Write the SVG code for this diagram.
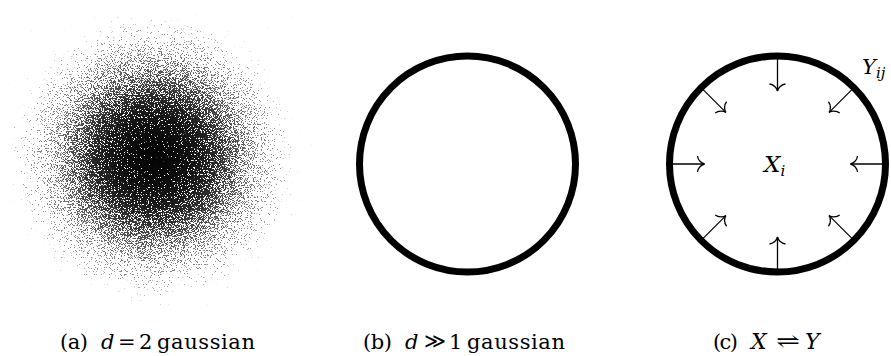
<svg xmlns="http://www.w3.org/2000/svg" width="891" height="356" viewBox="0 0 891 356">
<style>
text{font-family:'DejaVu Serif',serif;fill:#000}
.t{font-size:21px}
.m{font-style:italic}
.sym{font-size:21px}
.ring{fill:none;stroke:#000;stroke-width:7}
.arr{stroke:#000;stroke-width:1.3;fill:none}
</style>
<defs>
<radialGradient id="dens" cx="154" cy="158" r="155" gradientUnits="userSpaceOnUse">
<stop offset="0" stop-color="#000" stop-opacity="0.97"/>
<stop offset="0.1" stop-color="#000" stop-opacity="0.95"/>
<stop offset="0.2" stop-color="#000" stop-opacity="0.91"/>
<stop offset="0.3" stop-color="#000" stop-opacity="0.85"/>
<stop offset="0.4" stop-color="#000" stop-opacity="0.74"/>
<stop offset="0.5" stop-color="#000" stop-opacity="0.58"/>
<stop offset="0.6" stop-color="#000" stop-opacity="0.4"/>
<stop offset="0.7" stop-color="#000" stop-opacity="0.24"/>
<stop offset="0.8" stop-color="#000" stop-opacity="0.12"/>
<stop offset="0.9" stop-color="#000" stop-opacity="0.05"/>
<stop offset="1" stop-color="#000" stop-opacity="0.015"/>
</radialGradient>
<filter id="speckle" filterUnits="userSpaceOnUse" x="0" y="0" width="312" height="314" color-interpolation-filters="sRGB">
<feTurbulence type="fractalNoise" baseFrequency="1.3" numOctaves="1" seed="7" result="t"/>
<feColorMatrix in="t" type="matrix" values="0 0 0 0 0  0 0 0 0 0  0 0 0 0 0  1 0 0 0 0" result="n0"/>
<feComponentTransfer in="n0" result="n">
<feFuncA type="table" tableValues="0 0.0003 0.001 0.0036 0.0104 0.0274 0.0618 0.125 0.2206 0.35 0.5 0.65 0.7794 0.875 0.9382 0.9726 0.9896 0.9964 0.999 0.9997 1"/>
</feComponentTransfer>
<feComposite in="SourceGraphic" in2="n" operator="arithmetic" k1="0" k2="1" k3="-1" k4="0" result="d"/>
<feComponentTransfer in="d" result="dots">
<feFuncA type="linear" slope="20" intercept="0"/>
</feComponentTransfer>
<feComposite in="dots" in2="SourceGraphic" operator="arithmetic" k1="0.65" k2="0.35" k3="0" k4="0"/>
</filter>
<marker id="to" markerUnits="userSpaceOnUse" viewBox="-10 -10 20 20" markerWidth="20" markerHeight="20" refX="0" refY="0" orient="auto" overflow="visible">
<path d="M -7,-8 C -6.6,-3.8 -3.2,-0.7 0,0 C -3.2,0.7 -6.6,3.8 -7,8" fill="none" stroke="#000" stroke-width="1.3"/>
</marker>
</defs>
<rect width="891" height="356" fill="#fff"/>

<g id="panel-a">
<rect x="0" y="0" width="312" height="314" fill="url(#dens)" filter="url(#speckle)"/>
</g>

<g id="panel-b">
<circle class="ring" cx="467.5" cy="164" r="108"/>
</g>

<g id="panel-c">
<circle class="ring" cx="777.5" cy="164" r="108"/>
<text class="m" x="764" y="171.5" font-size="23">X<tspan font-size="15" dy="4">i</tspan></text>
<text class="m" x="862" y="74" font-size="21">Y<tspan font-size="15" dy="4">ij</tspan></text>
</g>

<g id="connectors">
<line class="arr" x1="885.5" y1="164" x2="850.5" y2="164" marker-end="url(#to)"/>
<line class="arr" x1="669.5" y1="164" x2="704.5" y2="164" marker-end="url(#to)"/>
<line class="arr" x1="777.5" y1="56" x2="777.5" y2="91" marker-end="url(#to)"/>
<line class="arr" x1="777.5" y1="272" x2="777.5" y2="237" marker-end="url(#to)"/>
<line class="arr" x1="853.87" y1="87.63" x2="829.12" y2="112.38" marker-end="url(#to)"/>
<line class="arr" x1="701.13" y1="87.63" x2="725.88" y2="112.38" marker-end="url(#to)"/>
<line class="arr" x1="853.87" y1="240.37" x2="829.12" y2="215.62" marker-end="url(#to)"/>
<line class="arr" x1="701.13" y1="240.37" x2="725.88" y2="215.62" marker-end="url(#to)"/>
</g>

<g id="captions">
<text class="t" x="60" y="349" textLength="28">(a)</text>
<text class="t m" x="101" y="349">d</text>
<text class="t" x="118" y="349">=</text>
<text class="t" x="139" y="349">2</text>
<text class="t" x="157" y="349" textLength="98">gaussian</text>

<text class="t" x="363" y="349" textLength="29">(b)</text>
<text class="t m" x="405" y="349">d</text>
<text class="sym" x="424" y="348">≫</text>
<text class="t" x="449" y="349">1</text>
<text class="t" x="467" y="349" textLength="98">gaussian</text>

<text class="t" x="713" y="349" textLength="25">(c)</text>
<text class="m" x="751" y="349" font-size="22">X</text>
<text class="sym" x="776" y="348" textLength="24" lengthAdjust="spacingAndGlyphs">⇌</text>
<text class="m" x="805" y="349" font-size="22">Y</text>
</g>
</svg>
